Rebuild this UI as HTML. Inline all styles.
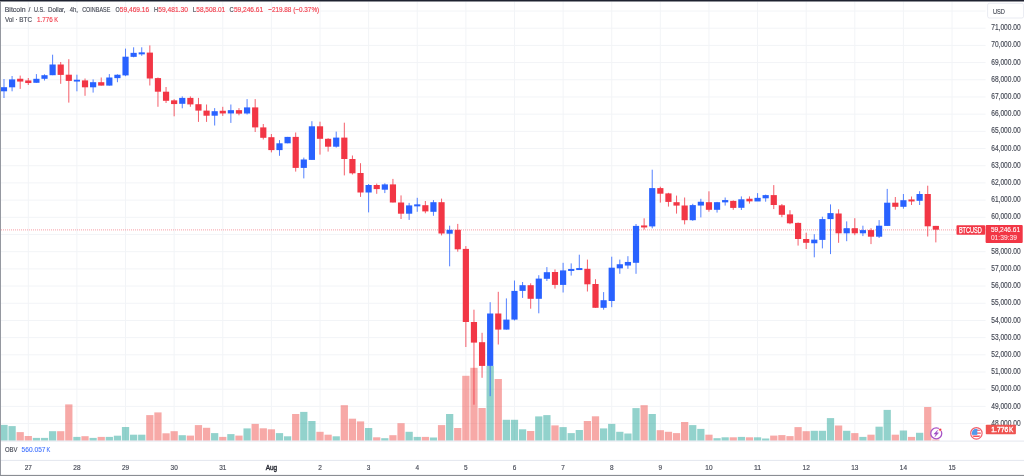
<!DOCTYPE html>
<html><head><meta charset="utf-8"><title>BTCUSD</title>
<style>
html,body{margin:0;padding:0;background:#fff;}
body{width:1024px;height:476px;overflow:hidden;position:relative;font-family:"Liberation Sans",sans-serif;}
svg{position:absolute;left:0;top:0;display:block;filter:blur(0.35px);}
text{font-family:"Liberation Sans",sans-serif;}
</style></head><body>
<svg width="1024" height="476" viewBox="0 0 1024 476">
<rect x="0" y="0" width="1024" height="476" fill="#ffffff"/>

<g stroke="#f2f4f7" stroke-width="1" fill="none">
<line x1="1" y1="11.02" x2="985.6" y2="11.02"/>
<line x1="1" y1="28.21" x2="985.6" y2="28.21"/>
<line x1="1" y1="45.40" x2="985.6" y2="45.40"/>
<line x1="1" y1="62.59" x2="985.6" y2="62.59"/>
<line x1="1" y1="79.78" x2="985.6" y2="79.78"/>
<line x1="1" y1="96.97" x2="985.6" y2="96.97"/>
<line x1="1" y1="114.16" x2="985.6" y2="114.16"/>
<line x1="1" y1="131.35" x2="985.6" y2="131.35"/>
<line x1="1" y1="148.54" x2="985.6" y2="148.54"/>
<line x1="1" y1="165.73" x2="985.6" y2="165.73"/>
<line x1="1" y1="182.92" x2="985.6" y2="182.92"/>
<line x1="1" y1="200.11" x2="985.6" y2="200.11"/>
<line x1="1" y1="217.30" x2="985.6" y2="217.30"/>
<line x1="1" y1="234.49" x2="985.6" y2="234.49"/>
<line x1="1" y1="251.68" x2="985.6" y2="251.68"/>
<line x1="1" y1="268.87" x2="985.6" y2="268.87"/>
<line x1="1" y1="286.06" x2="985.6" y2="286.06"/>
<line x1="1" y1="303.25" x2="985.6" y2="303.25"/>
<line x1="1" y1="320.44" x2="985.6" y2="320.44"/>
<line x1="1" y1="337.63" x2="985.6" y2="337.63"/>
<line x1="1" y1="354.82" x2="985.6" y2="354.82"/>
<line x1="1" y1="372.01" x2="985.6" y2="372.01"/>
<line x1="1" y1="389.20" x2="985.6" y2="389.20"/>
<line x1="1" y1="406.39" x2="985.6" y2="406.39"/>
<line x1="1" y1="423.58" x2="985.6" y2="423.58"/>
<line x1="28.30" y1="1.5" x2="28.30" y2="440.7"/>
<line x1="76.92" y1="1.5" x2="76.92" y2="440.7"/>
<line x1="125.53" y1="1.5" x2="125.53" y2="440.7"/>
<line x1="174.15" y1="1.5" x2="174.15" y2="440.7"/>
<line x1="222.77" y1="1.5" x2="222.77" y2="440.7"/>
<line x1="271.39" y1="1.5" x2="271.39" y2="440.7"/>
<line x1="320.01" y1="1.5" x2="320.01" y2="440.7"/>
<line x1="368.62" y1="1.5" x2="368.62" y2="440.7"/>
<line x1="417.24" y1="1.5" x2="417.24" y2="440.7"/>
<line x1="465.86" y1="1.5" x2="465.86" y2="440.7"/>
<line x1="514.48" y1="1.5" x2="514.48" y2="440.7"/>
<line x1="563.10" y1="1.5" x2="563.10" y2="440.7"/>
<line x1="611.72" y1="1.5" x2="611.72" y2="440.7"/>
<line x1="660.33" y1="1.5" x2="660.33" y2="440.7"/>
<line x1="708.95" y1="1.5" x2="708.95" y2="440.7"/>
<line x1="757.57" y1="1.5" x2="757.57" y2="440.7"/>
<line x1="806.19" y1="1.5" x2="806.19" y2="440.7"/>
<line x1="854.80" y1="1.5" x2="854.80" y2="440.7"/>
<line x1="903.42" y1="1.5" x2="903.42" y2="440.7"/>
<line x1="952.04" y1="1.5" x2="952.04" y2="440.7"/>
</g>
<g>
<rect x="1.00" y="424.90" width="6.62" height="15.80" fill="rgba(38,166,154,0.5)"/>
<rect x="8.47" y="426.10" width="7.25" height="14.60" fill="rgba(38,166,154,0.5)"/>
<rect x="16.57" y="432.10" width="7.25" height="8.60" fill="rgba(239,83,80,0.5)"/>
<rect x="24.67" y="436.00" width="7.25" height="4.70" fill="rgba(239,83,80,0.5)"/>
<rect x="32.78" y="437.90" width="7.25" height="2.80" fill="rgba(38,166,154,0.5)"/>
<rect x="40.88" y="437.90" width="7.25" height="2.80" fill="rgba(38,166,154,0.5)"/>
<rect x="48.98" y="431.20" width="7.25" height="9.50" fill="rgba(38,166,154,0.5)"/>
<rect x="57.09" y="431.20" width="7.25" height="9.50" fill="rgba(239,83,80,0.5)"/>
<rect x="65.19" y="404.40" width="7.25" height="36.30" fill="rgba(239,83,80,0.5)"/>
<rect x="73.29" y="436.90" width="7.25" height="3.80" fill="rgba(38,166,154,0.5)"/>
<rect x="81.39" y="436.20" width="7.25" height="4.50" fill="rgba(239,83,80,0.5)"/>
<rect x="89.50" y="437.90" width="7.25" height="2.80" fill="rgba(38,166,154,0.5)"/>
<rect x="97.60" y="436.90" width="7.25" height="3.80" fill="rgba(239,83,80,0.5)"/>
<rect x="105.70" y="436.90" width="7.25" height="3.80" fill="rgba(38,166,154,0.5)"/>
<rect x="113.81" y="435.70" width="7.25" height="5.00" fill="rgba(38,166,154,0.5)"/>
<rect x="121.91" y="427.00" width="7.25" height="13.70" fill="rgba(38,166,154,0.5)"/>
<rect x="130.01" y="434.70" width="7.25" height="6.00" fill="rgba(38,166,154,0.5)"/>
<rect x="138.12" y="434.70" width="7.25" height="6.00" fill="rgba(38,166,154,0.5)"/>
<rect x="146.22" y="415.10" width="7.25" height="25.60" fill="rgba(239,83,80,0.5)"/>
<rect x="154.32" y="412.40" width="7.25" height="28.30" fill="rgba(239,83,80,0.5)"/>
<rect x="162.43" y="433.30" width="7.25" height="7.40" fill="rgba(239,83,80,0.5)"/>
<rect x="170.53" y="431.20" width="7.25" height="9.50" fill="rgba(239,83,80,0.5)"/>
<rect x="178.63" y="435.20" width="7.25" height="5.50" fill="rgba(38,166,154,0.5)"/>
<rect x="186.73" y="435.60" width="7.25" height="5.10" fill="rgba(239,83,80,0.5)"/>
<rect x="194.84" y="425.10" width="7.25" height="15.60" fill="rgba(239,83,80,0.5)"/>
<rect x="202.94" y="427.80" width="7.25" height="12.90" fill="rgba(239,83,80,0.5)"/>
<rect x="211.04" y="433.10" width="7.25" height="7.60" fill="rgba(38,166,154,0.5)"/>
<rect x="219.15" y="436.90" width="7.25" height="3.80" fill="rgba(239,83,80,0.5)"/>
<rect x="227.25" y="434.10" width="7.25" height="6.60" fill="rgba(38,166,154,0.5)"/>
<rect x="235.35" y="435.60" width="7.25" height="5.10" fill="rgba(239,83,80,0.5)"/>
<rect x="243.46" y="428.40" width="7.25" height="12.30" fill="rgba(38,166,154,0.5)"/>
<rect x="251.56" y="423.90" width="7.25" height="16.80" fill="rgba(239,83,80,0.5)"/>
<rect x="259.66" y="428.30" width="7.25" height="12.40" fill="rgba(239,83,80,0.5)"/>
<rect x="267.76" y="429.30" width="7.25" height="11.40" fill="rgba(239,83,80,0.5)"/>
<rect x="275.87" y="433.10" width="7.25" height="7.60" fill="rgba(38,166,154,0.5)"/>
<rect x="283.97" y="436.30" width="7.25" height="4.40" fill="rgba(38,166,154,0.5)"/>
<rect x="292.07" y="414.00" width="7.25" height="26.70" fill="rgba(239,83,80,0.5)"/>
<rect x="300.18" y="411.90" width="7.25" height="28.80" fill="rgba(38,166,154,0.5)"/>
<rect x="308.28" y="421.00" width="7.25" height="19.70" fill="rgba(38,166,154,0.5)"/>
<rect x="316.38" y="431.80" width="7.25" height="8.90" fill="rgba(239,83,80,0.5)"/>
<rect x="324.49" y="434.70" width="7.25" height="6.00" fill="rgba(239,83,80,0.5)"/>
<rect x="332.59" y="436.30" width="7.25" height="4.40" fill="rgba(38,166,154,0.5)"/>
<rect x="340.69" y="405.20" width="7.25" height="35.50" fill="rgba(239,83,80,0.5)"/>
<rect x="348.79" y="418.70" width="7.25" height="22.00" fill="rgba(239,83,80,0.5)"/>
<rect x="356.90" y="421.40" width="7.25" height="19.30" fill="rgba(239,83,80,0.5)"/>
<rect x="365.00" y="428.00" width="7.25" height="12.70" fill="rgba(38,166,154,0.5)"/>
<rect x="373.10" y="437.30" width="7.25" height="3.40" fill="rgba(239,83,80,0.5)"/>
<rect x="381.21" y="438.20" width="7.25" height="2.50" fill="rgba(38,166,154,0.5)"/>
<rect x="389.31" y="435.20" width="7.25" height="5.50" fill="rgba(239,83,80,0.5)"/>
<rect x="397.41" y="423.20" width="7.25" height="17.50" fill="rgba(239,83,80,0.5)"/>
<rect x="405.51" y="431.80" width="7.25" height="8.90" fill="rgba(38,166,154,0.5)"/>
<rect x="413.62" y="436.90" width="7.25" height="3.80" fill="rgba(38,166,154,0.5)"/>
<rect x="421.72" y="436.90" width="7.25" height="3.80" fill="rgba(239,83,80,0.5)"/>
<rect x="429.82" y="437.50" width="7.25" height="3.20" fill="rgba(38,166,154,0.5)"/>
<rect x="437.93" y="425.10" width="7.25" height="15.60" fill="rgba(239,83,80,0.5)"/>
<rect x="446.03" y="414.00" width="7.25" height="26.70" fill="rgba(38,166,154,0.5)"/>
<rect x="454.13" y="428.00" width="7.25" height="12.70" fill="rgba(239,83,80,0.5)"/>
<rect x="462.24" y="375.80" width="7.25" height="64.90" fill="rgba(239,83,80,0.5)"/>
<rect x="470.34" y="367.80" width="7.25" height="72.90" fill="rgba(239,83,80,0.5)"/>
<rect x="478.44" y="408.00" width="7.25" height="32.70" fill="rgba(239,83,80,0.5)"/>
<rect x="486.55" y="366.00" width="7.25" height="74.70" fill="rgba(38,166,154,0.5)"/>
<rect x="494.65" y="379.00" width="7.25" height="61.70" fill="rgba(239,83,80,0.5)"/>
<rect x="502.75" y="419.80" width="7.25" height="20.90" fill="rgba(38,166,154,0.5)"/>
<rect x="510.85" y="419.80" width="7.25" height="20.90" fill="rgba(38,166,154,0.5)"/>
<rect x="518.96" y="429.30" width="7.25" height="11.40" fill="rgba(38,166,154,0.5)"/>
<rect x="527.06" y="431.00" width="7.25" height="9.70" fill="rgba(239,83,80,0.5)"/>
<rect x="535.16" y="416.40" width="7.25" height="24.30" fill="rgba(38,166,154,0.5)"/>
<rect x="543.27" y="415.10" width="7.25" height="25.60" fill="rgba(38,166,154,0.5)"/>
<rect x="551.37" y="425.40" width="7.25" height="15.30" fill="rgba(239,83,80,0.5)"/>
<rect x="559.47" y="427.10" width="7.25" height="13.60" fill="rgba(38,166,154,0.5)"/>
<rect x="567.58" y="433.10" width="7.25" height="7.60" fill="rgba(38,166,154,0.5)"/>
<rect x="575.68" y="430.00" width="7.25" height="10.70" fill="rgba(38,166,154,0.5)"/>
<rect x="583.78" y="421.00" width="7.25" height="19.70" fill="rgba(239,83,80,0.5)"/>
<rect x="591.88" y="416.30" width="7.25" height="24.40" fill="rgba(239,83,80,0.5)"/>
<rect x="599.99" y="428.40" width="7.25" height="12.30" fill="rgba(38,166,154,0.5)"/>
<rect x="608.09" y="423.90" width="7.25" height="16.80" fill="rgba(38,166,154,0.5)"/>
<rect x="616.19" y="431.80" width="7.25" height="8.90" fill="rgba(38,166,154,0.5)"/>
<rect x="624.30" y="433.50" width="7.25" height="7.20" fill="rgba(38,166,154,0.5)"/>
<rect x="632.40" y="408.10" width="7.25" height="32.60" fill="rgba(38,166,154,0.5)"/>
<rect x="640.50" y="405.20" width="7.25" height="35.50" fill="rgba(239,83,80,0.5)"/>
<rect x="648.61" y="414.00" width="7.25" height="26.70" fill="rgba(38,166,154,0.5)"/>
<rect x="656.71" y="430.20" width="7.25" height="10.50" fill="rgba(239,83,80,0.5)"/>
<rect x="664.81" y="431.80" width="7.25" height="8.90" fill="rgba(239,83,80,0.5)"/>
<rect x="672.91" y="433.10" width="7.25" height="7.60" fill="rgba(239,83,80,0.5)"/>
<rect x="681.02" y="422.00" width="7.25" height="18.70" fill="rgba(239,83,80,0.5)"/>
<rect x="689.12" y="425.10" width="7.25" height="15.60" fill="rgba(38,166,154,0.5)"/>
<rect x="697.22" y="428.90" width="7.25" height="11.80" fill="rgba(38,166,154,0.5)"/>
<rect x="705.33" y="434.70" width="7.25" height="6.00" fill="rgba(239,83,80,0.5)"/>
<rect x="713.43" y="438.20" width="7.25" height="2.50" fill="rgba(38,166,154,0.5)"/>
<rect x="721.53" y="437.30" width="7.25" height="3.40" fill="rgba(38,166,154,0.5)"/>
<rect x="729.63" y="437.30" width="7.25" height="3.40" fill="rgba(239,83,80,0.5)"/>
<rect x="737.74" y="436.90" width="7.25" height="3.80" fill="rgba(38,166,154,0.5)"/>
<rect x="745.84" y="437.30" width="7.25" height="3.40" fill="rgba(239,83,80,0.5)"/>
<rect x="753.94" y="437.30" width="7.25" height="3.40" fill="rgba(38,166,154,0.5)"/>
<rect x="762.05" y="438.50" width="7.25" height="2.20" fill="rgba(38,166,154,0.5)"/>
<rect x="770.15" y="435.60" width="7.25" height="5.10" fill="rgba(239,83,80,0.5)"/>
<rect x="778.25" y="435.10" width="7.25" height="5.60" fill="rgba(239,83,80,0.5)"/>
<rect x="786.36" y="436.10" width="7.25" height="4.60" fill="rgba(239,83,80,0.5)"/>
<rect x="794.46" y="427.10" width="7.25" height="13.60" fill="rgba(239,83,80,0.5)"/>
<rect x="802.56" y="431.20" width="7.25" height="9.50" fill="rgba(239,83,80,0.5)"/>
<rect x="810.66" y="430.80" width="7.25" height="9.90" fill="rgba(38,166,154,0.5)"/>
<rect x="818.77" y="430.80" width="7.25" height="9.90" fill="rgba(38,166,154,0.5)"/>
<rect x="826.87" y="418.10" width="7.25" height="22.60" fill="rgba(38,166,154,0.5)"/>
<rect x="834.97" y="425.50" width="7.25" height="15.20" fill="rgba(239,83,80,0.5)"/>
<rect x="843.08" y="430.80" width="7.25" height="9.90" fill="rgba(38,166,154,0.5)"/>
<rect x="851.18" y="433.10" width="7.25" height="7.60" fill="rgba(239,83,80,0.5)"/>
<rect x="859.28" y="436.90" width="7.25" height="3.80" fill="rgba(38,166,154,0.5)"/>
<rect x="867.39" y="434.70" width="7.25" height="6.00" fill="rgba(239,83,80,0.5)"/>
<rect x="875.49" y="426.70" width="7.25" height="14.00" fill="rgba(38,166,154,0.5)"/>
<rect x="883.59" y="409.90" width="7.25" height="30.80" fill="rgba(38,166,154,0.5)"/>
<rect x="891.69" y="434.70" width="7.25" height="6.00" fill="rgba(239,83,80,0.5)"/>
<rect x="899.80" y="430.50" width="7.25" height="10.20" fill="rgba(38,166,154,0.5)"/>
<rect x="907.90" y="436.90" width="7.25" height="3.80" fill="rgba(239,83,80,0.5)"/>
<rect x="916.00" y="432.80" width="7.25" height="7.90" fill="rgba(38,166,154,0.5)"/>
<rect x="924.11" y="407.00" width="7.25" height="33.70" fill="rgba(239,83,80,0.5)"/>
<rect x="932.21" y="439.50" width="7.25" height="1.20" fill="rgba(239,83,80,0.5)"/>
</g>
<line x1="1" y1="229.9" x2="985.6" y2="229.9" stroke="#f23645" stroke-width="0.8" stroke-dasharray="1 1" opacity="0.6"/>
<g>
<line x1="3.99" y1="79.00" x2="3.99" y2="98.00" stroke="#2962ff" stroke-width="1" opacity="0.8"/>
<rect x="1.00" y="87.20" width="6.09" height="4.10" fill="#2962ff"/>
<line x1="12.09" y1="76.00" x2="12.09" y2="91.30" stroke="#2962ff" stroke-width="1" opacity="0.8"/>
<rect x="8.99" y="79.40" width="6.20" height="7.90" fill="#2962ff"/>
<line x1="20.20" y1="75.60" x2="20.20" y2="88.90" stroke="#f23645" stroke-width="1" opacity="0.8"/>
<rect x="17.10" y="78.75" width="6.20" height="2.80" fill="#f23645"/>
<line x1="28.30" y1="78.00" x2="28.30" y2="85.00" stroke="#f23645" stroke-width="1" opacity="0.8"/>
<rect x="25.20" y="80.45" width="6.20" height="2.60" fill="#f23645"/>
<line x1="36.40" y1="74.10" x2="36.40" y2="82.80" stroke="#2962ff" stroke-width="1" opacity="0.8"/>
<rect x="33.30" y="78.80" width="6.20" height="4.00" fill="#2962ff"/>
<line x1="44.51" y1="74.30" x2="44.51" y2="80.50" stroke="#2962ff" stroke-width="1" opacity="0.8"/>
<rect x="41.41" y="75.20" width="6.20" height="3.60" fill="#2962ff"/>
<line x1="52.61" y1="54.70" x2="52.61" y2="75.20" stroke="#2962ff" stroke-width="1" opacity="0.8"/>
<rect x="49.51" y="64.50" width="6.20" height="10.70" fill="#2962ff"/>
<line x1="60.71" y1="62.00" x2="60.71" y2="83.80" stroke="#f23645" stroke-width="1" opacity="0.8"/>
<rect x="57.61" y="64.50" width="6.20" height="10.40" fill="#f23645"/>
<line x1="68.81" y1="59.20" x2="68.81" y2="102.60" stroke="#f23645" stroke-width="1" opacity="0.8"/>
<rect x="65.71" y="74.70" width="6.20" height="6.20" fill="#f23645"/>
<line x1="76.92" y1="74.70" x2="76.92" y2="91.30" stroke="#2962ff" stroke-width="1" opacity="0.8"/>
<rect x="73.82" y="79.75" width="6.20" height="1.80" fill="#2962ff"/>
<line x1="85.02" y1="78.50" x2="85.02" y2="95.80" stroke="#f23645" stroke-width="1" opacity="0.8"/>
<rect x="81.92" y="80.40" width="6.20" height="6.90" fill="#f23645"/>
<line x1="93.12" y1="79.40" x2="93.12" y2="92.60" stroke="#2962ff" stroke-width="1" opacity="0.8"/>
<rect x="90.02" y="82.20" width="6.20" height="5.10" fill="#2962ff"/>
<line x1="101.23" y1="77.50" x2="101.23" y2="85.60" stroke="#f23645" stroke-width="1" opacity="0.8"/>
<rect x="98.13" y="82.20" width="6.20" height="3.40" fill="#f23645"/>
<line x1="109.33" y1="74.10" x2="109.33" y2="85.60" stroke="#2962ff" stroke-width="1" opacity="0.8"/>
<rect x="106.23" y="77.50" width="6.20" height="8.10" fill="#2962ff"/>
<line x1="117.43" y1="74.30" x2="117.43" y2="82.20" stroke="#2962ff" stroke-width="1" opacity="0.8"/>
<rect x="114.33" y="74.75" width="6.20" height="3.40" fill="#2962ff"/>
<line x1="125.53" y1="48.60" x2="125.53" y2="76.20" stroke="#2962ff" stroke-width="1" opacity="0.8"/>
<rect x="122.44" y="56.70" width="6.20" height="18.70" fill="#2962ff"/>
<line x1="133.64" y1="47.30" x2="133.64" y2="57.30" stroke="#2962ff" stroke-width="1" opacity="0.8"/>
<rect x="130.54" y="52.85" width="6.20" height="4.00" fill="#2962ff"/>
<line x1="141.74" y1="47.30" x2="141.74" y2="55.80" stroke="#2962ff" stroke-width="1" opacity="0.8"/>
<rect x="138.64" y="52.35" width="6.20" height="2.00" fill="#2962ff"/>
<line x1="149.84" y1="45.40" x2="149.84" y2="85.50" stroke="#f23645" stroke-width="1" opacity="0.8"/>
<rect x="146.74" y="52.60" width="6.20" height="25.90" fill="#f23645"/>
<line x1="157.95" y1="77.50" x2="157.95" y2="106.80" stroke="#f23645" stroke-width="1" opacity="0.8"/>
<rect x="154.85" y="78.10" width="6.20" height="13.60" fill="#f23645"/>
<line x1="166.05" y1="87.00" x2="166.05" y2="103.00" stroke="#f23645" stroke-width="1" opacity="0.8"/>
<rect x="162.95" y="91.70" width="6.20" height="9.10" fill="#f23645"/>
<line x1="174.15" y1="99.20" x2="174.15" y2="116.30" stroke="#f23645" stroke-width="1" opacity="0.8"/>
<rect x="171.05" y="100.35" width="6.20" height="3.70" fill="#f23645"/>
<line x1="182.26" y1="96.40" x2="182.26" y2="108.30" stroke="#2962ff" stroke-width="1" opacity="0.8"/>
<rect x="179.16" y="97.90" width="6.20" height="5.90" fill="#2962ff"/>
<line x1="190.36" y1="96.40" x2="190.36" y2="106.80" stroke="#f23645" stroke-width="1" opacity="0.8"/>
<rect x="187.26" y="97.90" width="6.20" height="6.50" fill="#f23645"/>
<line x1="198.46" y1="97.90" x2="198.46" y2="121.90" stroke="#f23645" stroke-width="1" opacity="0.8"/>
<rect x="195.36" y="104.20" width="6.20" height="6.40" fill="#f23645"/>
<line x1="206.56" y1="104.50" x2="206.56" y2="121.90" stroke="#f23645" stroke-width="1" opacity="0.8"/>
<rect x="203.47" y="110.60" width="6.20" height="5.10" fill="#f23645"/>
<line x1="214.67" y1="108.10" x2="214.67" y2="125.50" stroke="#2962ff" stroke-width="1" opacity="0.8"/>
<rect x="211.57" y="111.20" width="6.20" height="4.50" fill="#2962ff"/>
<line x1="222.77" y1="106.80" x2="222.77" y2="115.90" stroke="#f23645" stroke-width="1" opacity="0.8"/>
<rect x="219.67" y="110.75" width="6.20" height="2.70" fill="#f23645"/>
<line x1="230.87" y1="104.50" x2="230.87" y2="122.90" stroke="#2962ff" stroke-width="1" opacity="0.8"/>
<rect x="227.77" y="110.15" width="6.20" height="3.30" fill="#2962ff"/>
<line x1="238.98" y1="108.10" x2="238.98" y2="115.30" stroke="#f23645" stroke-width="1" opacity="0.8"/>
<rect x="235.88" y="110.15" width="6.20" height="3.50" fill="#f23645"/>
<line x1="247.08" y1="99.10" x2="247.08" y2="114.50" stroke="#2962ff" stroke-width="1" opacity="0.8"/>
<rect x="243.98" y="107.40" width="6.20" height="6.10" fill="#2962ff"/>
<line x1="255.18" y1="99.10" x2="255.18" y2="132.00" stroke="#f23645" stroke-width="1" opacity="0.8"/>
<rect x="252.08" y="107.40" width="6.20" height="20.00" fill="#f23645"/>
<line x1="263.29" y1="124.00" x2="263.29" y2="139.50" stroke="#f23645" stroke-width="1" opacity="0.8"/>
<rect x="260.19" y="127.40" width="6.20" height="10.40" fill="#f23645"/>
<line x1="271.39" y1="134.00" x2="271.39" y2="152.40" stroke="#f23645" stroke-width="1" opacity="0.8"/>
<rect x="268.29" y="137.20" width="6.20" height="12.90" fill="#f23645"/>
<line x1="279.49" y1="140.10" x2="279.49" y2="155.80" stroke="#2962ff" stroke-width="1" opacity="0.8"/>
<rect x="276.39" y="143.30" width="6.20" height="6.80" fill="#2962ff"/>
<line x1="287.60" y1="136.90" x2="287.60" y2="143.30" stroke="#2962ff" stroke-width="1" opacity="0.8"/>
<rect x="284.50" y="136.90" width="6.20" height="6.40" fill="#2962ff"/>
<line x1="295.70" y1="132.50" x2="295.70" y2="171.60" stroke="#f23645" stroke-width="1" opacity="0.8"/>
<rect x="292.60" y="136.90" width="6.20" height="31.00" fill="#f23645"/>
<line x1="303.80" y1="157.60" x2="303.80" y2="178.40" stroke="#2962ff" stroke-width="1" opacity="0.8"/>
<rect x="300.70" y="159.50" width="6.20" height="8.40" fill="#2962ff"/>
<line x1="311.90" y1="121.20" x2="311.90" y2="159.90" stroke="#2962ff" stroke-width="1" opacity="0.8"/>
<rect x="308.80" y="126.30" width="6.20" height="33.60" fill="#2962ff"/>
<line x1="320.01" y1="121.70" x2="320.01" y2="154.60" stroke="#f23645" stroke-width="1" opacity="0.8"/>
<rect x="316.91" y="126.30" width="6.20" height="12.50" fill="#f23645"/>
<line x1="328.11" y1="138.20" x2="328.11" y2="151.60" stroke="#f23645" stroke-width="1" opacity="0.8"/>
<rect x="325.01" y="138.80" width="6.20" height="7.90" fill="#f23645"/>
<line x1="336.21" y1="131.60" x2="336.21" y2="147.60" stroke="#2962ff" stroke-width="1" opacity="0.8"/>
<rect x="333.11" y="137.60" width="6.20" height="9.10" fill="#2962ff"/>
<line x1="344.32" y1="122.70" x2="344.32" y2="175.40" stroke="#f23645" stroke-width="1" opacity="0.8"/>
<rect x="341.22" y="137.60" width="6.20" height="21.40" fill="#f23645"/>
<line x1="352.42" y1="155.50" x2="352.42" y2="174.50" stroke="#f23645" stroke-width="1" opacity="0.8"/>
<rect x="349.32" y="159.00" width="6.20" height="14.30" fill="#f23645"/>
<line x1="360.52" y1="163.20" x2="360.52" y2="196.90" stroke="#f23645" stroke-width="1" opacity="0.8"/>
<rect x="357.42" y="173.00" width="6.20" height="19.50" fill="#f23645"/>
<line x1="368.62" y1="184.00" x2="368.62" y2="212.40" stroke="#2962ff" stroke-width="1" opacity="0.8"/>
<rect x="365.52" y="185.00" width="6.20" height="7.50" fill="#2962ff"/>
<line x1="376.73" y1="183.60" x2="376.73" y2="193.80" stroke="#f23645" stroke-width="1" opacity="0.8"/>
<rect x="373.63" y="185.00" width="6.20" height="4.10" fill="#f23645"/>
<line x1="384.83" y1="183.30" x2="384.83" y2="193.10" stroke="#2962ff" stroke-width="1" opacity="0.8"/>
<rect x="381.73" y="184.40" width="6.20" height="5.30" fill="#2962ff"/>
<line x1="392.93" y1="178.90" x2="392.93" y2="202.50" stroke="#f23645" stroke-width="1" opacity="0.8"/>
<rect x="389.83" y="184.40" width="6.20" height="18.10" fill="#f23645"/>
<line x1="401.04" y1="195.40" x2="401.04" y2="219.00" stroke="#f23645" stroke-width="1" opacity="0.8"/>
<rect x="397.94" y="202.50" width="6.20" height="11.20" fill="#f23645"/>
<line x1="409.14" y1="202.90" x2="409.14" y2="219.90" stroke="#2962ff" stroke-width="1" opacity="0.8"/>
<rect x="406.04" y="205.40" width="6.20" height="8.30" fill="#2962ff"/>
<line x1="417.24" y1="197.80" x2="417.24" y2="211.80" stroke="#2962ff" stroke-width="1" opacity="0.8"/>
<rect x="414.14" y="204.35" width="6.20" height="2.00" fill="#2962ff"/>
<line x1="425.35" y1="201.00" x2="425.35" y2="213.30" stroke="#f23645" stroke-width="1" opacity="0.8"/>
<rect x="422.25" y="205.20" width="6.20" height="6.20" fill="#f23645"/>
<line x1="433.45" y1="200.10" x2="433.45" y2="215.80" stroke="#2962ff" stroke-width="1" opacity="0.8"/>
<rect x="430.35" y="202.20" width="6.20" height="9.60" fill="#2962ff"/>
<line x1="441.55" y1="198.60" x2="441.55" y2="235.40" stroke="#f23645" stroke-width="1" opacity="0.8"/>
<rect x="438.45" y="202.20" width="6.20" height="31.30" fill="#f23645"/>
<line x1="449.65" y1="225.70" x2="449.65" y2="266.30" stroke="#2962ff" stroke-width="1" opacity="0.8"/>
<rect x="446.55" y="229.80" width="6.20" height="3.90" fill="#2962ff"/>
<line x1="457.76" y1="223.90" x2="457.76" y2="251.70" stroke="#f23645" stroke-width="1" opacity="0.8"/>
<rect x="454.66" y="229.80" width="6.20" height="19.50" fill="#f23645"/>
<line x1="465.86" y1="246.10" x2="465.86" y2="347.00" stroke="#f23645" stroke-width="1" opacity="0.8"/>
<rect x="462.76" y="248.90" width="6.20" height="73.10" fill="#f23645"/>
<line x1="473.96" y1="309.70" x2="473.96" y2="404.70" stroke="#f23645" stroke-width="1" opacity="0.8"/>
<rect x="470.86" y="322.00" width="6.20" height="20.60" fill="#f23645"/>
<line x1="482.07" y1="332.80" x2="482.07" y2="377.80" stroke="#f23645" stroke-width="1" opacity="0.8"/>
<rect x="478.97" y="342.20" width="6.20" height="23.70" fill="#f23645"/>
<line x1="490.17" y1="302.20" x2="490.17" y2="396.20" stroke="#2962ff" stroke-width="1" opacity="0.8"/>
<rect x="487.07" y="313.50" width="6.20" height="52.40" fill="#2962ff"/>
<line x1="498.27" y1="291.80" x2="498.27" y2="344.50" stroke="#f23645" stroke-width="1" opacity="0.8"/>
<rect x="495.17" y="313.50" width="6.20" height="16.10" fill="#f23645"/>
<line x1="506.38" y1="298.40" x2="506.38" y2="329.60" stroke="#2962ff" stroke-width="1" opacity="0.8"/>
<rect x="503.28" y="319.60" width="6.20" height="10.00" fill="#2962ff"/>
<line x1="514.48" y1="280.50" x2="514.48" y2="320.50" stroke="#2962ff" stroke-width="1" opacity="0.8"/>
<rect x="511.38" y="290.90" width="6.20" height="28.70" fill="#2962ff"/>
<line x1="522.58" y1="282.00" x2="522.58" y2="297.90" stroke="#2962ff" stroke-width="1" opacity="0.8"/>
<rect x="519.48" y="285.20" width="6.20" height="5.70" fill="#2962ff"/>
<line x1="530.68" y1="283.30" x2="530.68" y2="308.70" stroke="#f23645" stroke-width="1" opacity="0.8"/>
<rect x="527.58" y="285.20" width="6.20" height="13.60" fill="#f23645"/>
<line x1="538.79" y1="275.20" x2="538.79" y2="313.30" stroke="#2962ff" stroke-width="1" opacity="0.8"/>
<rect x="535.69" y="278.60" width="6.20" height="20.20" fill="#2962ff"/>
<line x1="546.89" y1="267.10" x2="546.89" y2="281.00" stroke="#2962ff" stroke-width="1" opacity="0.8"/>
<rect x="543.79" y="272.20" width="6.20" height="6.60" fill="#2962ff"/>
<line x1="554.99" y1="269.40" x2="554.99" y2="288.60" stroke="#f23645" stroke-width="1" opacity="0.8"/>
<rect x="551.89" y="272.00" width="6.20" height="12.90" fill="#f23645"/>
<line x1="563.10" y1="262.80" x2="563.10" y2="292.50" stroke="#2962ff" stroke-width="1" opacity="0.8"/>
<rect x="560.00" y="270.40" width="6.20" height="14.50" fill="#2962ff"/>
<line x1="571.20" y1="263.40" x2="571.20" y2="275.60" stroke="#2962ff" stroke-width="1" opacity="0.8"/>
<rect x="568.10" y="268.95" width="6.20" height="2.00" fill="#2962ff"/>
<line x1="579.30" y1="254.70" x2="579.30" y2="269.60" stroke="#2962ff" stroke-width="1" opacity="0.8"/>
<rect x="576.20" y="268.05" width="6.20" height="2.00" fill="#2962ff"/>
<line x1="587.41" y1="259.60" x2="587.41" y2="291.50" stroke="#f23645" stroke-width="1" opacity="0.8"/>
<rect x="584.31" y="268.80" width="6.20" height="15.50" fill="#f23645"/>
<line x1="595.51" y1="279.20" x2="595.51" y2="307.80" stroke="#f23645" stroke-width="1" opacity="0.8"/>
<rect x="592.41" y="284.00" width="6.20" height="23.80" fill="#f23645"/>
<line x1="603.61" y1="292.10" x2="603.61" y2="309.70" stroke="#2962ff" stroke-width="1" opacity="0.8"/>
<rect x="600.51" y="300.20" width="6.20" height="7.60" fill="#2962ff"/>
<line x1="611.72" y1="256.70" x2="611.72" y2="307.20" stroke="#2962ff" stroke-width="1" opacity="0.8"/>
<rect x="608.62" y="267.70" width="6.20" height="33.30" fill="#2962ff"/>
<line x1="619.82" y1="259.60" x2="619.82" y2="273.80" stroke="#2962ff" stroke-width="1" opacity="0.8"/>
<rect x="616.72" y="264.25" width="6.20" height="4.10" fill="#2962ff"/>
<line x1="627.92" y1="256.20" x2="627.92" y2="268.80" stroke="#2962ff" stroke-width="1" opacity="0.8"/>
<rect x="624.82" y="261.95" width="6.20" height="3.60" fill="#2962ff"/>
<line x1="636.02" y1="224.00" x2="636.02" y2="273.80" stroke="#2962ff" stroke-width="1" opacity="0.8"/>
<rect x="632.92" y="225.90" width="6.20" height="36.90" fill="#2962ff"/>
<line x1="644.13" y1="218.30" x2="644.13" y2="229.60" stroke="#f23645" stroke-width="1" opacity="0.8"/>
<rect x="641.03" y="225.45" width="6.20" height="2.00" fill="#f23645"/>
<line x1="652.23" y1="169.70" x2="652.23" y2="228.30" stroke="#2962ff" stroke-width="1" opacity="0.8"/>
<rect x="649.13" y="188.10" width="6.20" height="38.30" fill="#2962ff"/>
<line x1="660.33" y1="186.70" x2="660.33" y2="202.60" stroke="#f23645" stroke-width="1" opacity="0.8"/>
<rect x="657.23" y="188.10" width="6.20" height="5.60" fill="#f23645"/>
<line x1="668.44" y1="192.80" x2="668.44" y2="206.60" stroke="#f23645" stroke-width="1" opacity="0.8"/>
<rect x="665.34" y="193.40" width="6.20" height="8.50" fill="#f23645"/>
<line x1="676.54" y1="195.60" x2="676.54" y2="213.60" stroke="#f23645" stroke-width="1" opacity="0.8"/>
<rect x="673.44" y="202.20" width="6.20" height="3.40" fill="#f23645"/>
<line x1="684.64" y1="197.50" x2="684.64" y2="224.40" stroke="#f23645" stroke-width="1" opacity="0.8"/>
<rect x="681.54" y="205.50" width="6.20" height="14.70" fill="#f23645"/>
<line x1="692.75" y1="203.80" x2="692.75" y2="220.80" stroke="#2962ff" stroke-width="1" opacity="0.8"/>
<rect x="689.64" y="205.10" width="6.20" height="15.10" fill="#2962ff"/>
<line x1="700.85" y1="198.80" x2="700.85" y2="217.40" stroke="#2962ff" stroke-width="1" opacity="0.8"/>
<rect x="697.75" y="201.75" width="6.20" height="3.80" fill="#2962ff"/>
<line x1="708.95" y1="191.30" x2="708.95" y2="211.70" stroke="#f23645" stroke-width="1" opacity="0.8"/>
<rect x="705.85" y="202.20" width="6.20" height="7.60" fill="#f23645"/>
<line x1="717.05" y1="201.90" x2="717.05" y2="212.60" stroke="#2962ff" stroke-width="1" opacity="0.8"/>
<rect x="713.95" y="202.20" width="6.20" height="7.60" fill="#2962ff"/>
<line x1="725.16" y1="197.50" x2="725.16" y2="205.60" stroke="#2962ff" stroke-width="1" opacity="0.8"/>
<rect x="722.06" y="200.05" width="6.20" height="2.30" fill="#2962ff"/>
<line x1="733.26" y1="200.40" x2="733.26" y2="209.80" stroke="#f23645" stroke-width="1" opacity="0.8"/>
<rect x="730.16" y="200.90" width="6.20" height="7.00" fill="#f23645"/>
<line x1="741.36" y1="196.40" x2="741.36" y2="210.00" stroke="#2962ff" stroke-width="1" opacity="0.8"/>
<rect x="738.26" y="199.30" width="6.20" height="8.50" fill="#2962ff"/>
<line x1="749.47" y1="196.40" x2="749.47" y2="203.60" stroke="#f23645" stroke-width="1" opacity="0.8"/>
<rect x="746.37" y="198.75" width="6.20" height="2.60" fill="#f23645"/>
<line x1="757.57" y1="193.10" x2="757.57" y2="201.00" stroke="#2962ff" stroke-width="1" opacity="0.8"/>
<rect x="754.47" y="197.85" width="6.20" height="3.60" fill="#2962ff"/>
<line x1="765.67" y1="194.60" x2="765.67" y2="201.70" stroke="#2962ff" stroke-width="1" opacity="0.8"/>
<rect x="762.57" y="195.10" width="6.20" height="3.20" fill="#2962ff"/>
<line x1="773.77" y1="185.10" x2="773.77" y2="209.10" stroke="#f23645" stroke-width="1" opacity="0.8"/>
<rect x="770.67" y="195.10" width="6.20" height="9.90" fill="#f23645"/>
<line x1="781.88" y1="204.00" x2="781.88" y2="217.20" stroke="#f23645" stroke-width="1" opacity="0.8"/>
<rect x="778.78" y="205.30" width="6.20" height="9.50" fill="#f23645"/>
<line x1="789.98" y1="210.20" x2="789.98" y2="224.20" stroke="#f23645" stroke-width="1" opacity="0.8"/>
<rect x="786.88" y="214.40" width="6.20" height="8.90" fill="#f23645"/>
<line x1="798.08" y1="222.50" x2="798.08" y2="245.60" stroke="#f23645" stroke-width="1" opacity="0.8"/>
<rect x="794.98" y="222.90" width="6.20" height="16.10" fill="#f23645"/>
<line x1="806.19" y1="232.70" x2="806.19" y2="249.00" stroke="#f23645" stroke-width="1" opacity="0.8"/>
<rect x="803.09" y="239.00" width="6.20" height="3.80" fill="#f23645"/>
<line x1="814.29" y1="234.20" x2="814.29" y2="257.30" stroke="#2962ff" stroke-width="1" opacity="0.8"/>
<rect x="811.19" y="239.65" width="6.20" height="3.60" fill="#2962ff"/>
<line x1="822.39" y1="216.70" x2="822.39" y2="248.40" stroke="#2962ff" stroke-width="1" opacity="0.8"/>
<rect x="819.29" y="219.10" width="6.20" height="20.80" fill="#2962ff"/>
<line x1="830.50" y1="204.40" x2="830.50" y2="254.10" stroke="#2962ff" stroke-width="1" opacity="0.8"/>
<rect x="827.40" y="213.10" width="6.20" height="6.00" fill="#2962ff"/>
<line x1="838.60" y1="209.30" x2="838.60" y2="242.80" stroke="#f23645" stroke-width="1" opacity="0.8"/>
<rect x="835.50" y="213.50" width="6.20" height="19.80" fill="#f23645"/>
<line x1="846.70" y1="221.40" x2="846.70" y2="241.20" stroke="#2962ff" stroke-width="1" opacity="0.8"/>
<rect x="843.60" y="228.20" width="6.20" height="5.10" fill="#2962ff"/>
<line x1="854.80" y1="218.20" x2="854.80" y2="235.20" stroke="#f23645" stroke-width="1" opacity="0.8"/>
<rect x="851.70" y="228.20" width="6.20" height="5.10" fill="#f23645"/>
<line x1="862.91" y1="225.70" x2="862.91" y2="236.10" stroke="#2962ff" stroke-width="1" opacity="0.8"/>
<rect x="859.81" y="230.10" width="6.20" height="3.20" fill="#2962ff"/>
<line x1="871.01" y1="228.20" x2="871.01" y2="244.10" stroke="#f23645" stroke-width="1" opacity="0.8"/>
<rect x="867.91" y="230.10" width="6.20" height="6.60" fill="#f23645"/>
<line x1="879.11" y1="220.10" x2="879.11" y2="238.00" stroke="#2962ff" stroke-width="1" opacity="0.8"/>
<rect x="876.01" y="225.70" width="6.20" height="11.00" fill="#2962ff"/>
<line x1="887.22" y1="188.90" x2="887.22" y2="225.90" stroke="#2962ff" stroke-width="1" opacity="0.8"/>
<rect x="884.12" y="202.70" width="6.20" height="23.20" fill="#2962ff"/>
<line x1="895.32" y1="197.00" x2="895.32" y2="209.70" stroke="#f23645" stroke-width="1" opacity="0.8"/>
<rect x="892.22" y="202.70" width="6.20" height="4.10" fill="#f23645"/>
<line x1="903.42" y1="194.00" x2="903.42" y2="208.70" stroke="#2962ff" stroke-width="1" opacity="0.8"/>
<rect x="900.32" y="200.20" width="6.20" height="6.60" fill="#2962ff"/>
<line x1="911.53" y1="196.50" x2="911.53" y2="205.00" stroke="#f23645" stroke-width="1" opacity="0.8"/>
<rect x="908.43" y="199.45" width="6.20" height="2.00" fill="#f23645"/>
<line x1="919.63" y1="191.20" x2="919.63" y2="205.00" stroke="#2962ff" stroke-width="1" opacity="0.8"/>
<rect x="916.53" y="194.00" width="6.20" height="6.80" fill="#2962ff"/>
<line x1="927.73" y1="185.70" x2="927.73" y2="236.50" stroke="#f23645" stroke-width="1" opacity="0.8"/>
<rect x="924.63" y="194.00" width="6.20" height="32.30" fill="#f23645"/>
<line x1="935.84" y1="225.90" x2="935.84" y2="242.40" stroke="#f23645" stroke-width="1" opacity="0.8"/>
<rect x="932.74" y="225.90" width="6.20" height="3.80" fill="#f23645"/>
</g>
<line x1="1" y1="441.1" x2="1024" y2="441.1" stroke="#e4e7ef" stroke-width="1"/>
<line x1="1" y1="460.4" x2="1024" y2="460.4" stroke="#e4e7ef" stroke-width="1"/>
<text x="991.20" y="30.10" font-size="8.20" fill="#474b57" text-anchor="start" font-weight="normal" stroke="#474b57" stroke-width="0.16" textLength="29.50" lengthAdjust="spacingAndGlyphs">71,000.00</text>
<text x="991.20" y="47.30" font-size="8.20" fill="#474b57" text-anchor="start" font-weight="normal" stroke="#474b57" stroke-width="0.16" textLength="29.50" lengthAdjust="spacingAndGlyphs">70,000.00</text>
<text x="991.20" y="64.50" font-size="8.20" fill="#474b57" text-anchor="start" font-weight="normal" stroke="#474b57" stroke-width="0.16" textLength="29.50" lengthAdjust="spacingAndGlyphs">69,000.00</text>
<text x="991.20" y="81.70" font-size="8.20" fill="#474b57" text-anchor="start" font-weight="normal" stroke="#474b57" stroke-width="0.16" textLength="29.50" lengthAdjust="spacingAndGlyphs">68,000.00</text>
<text x="991.20" y="98.90" font-size="8.20" fill="#474b57" text-anchor="start" font-weight="normal" stroke="#474b57" stroke-width="0.16" textLength="29.50" lengthAdjust="spacingAndGlyphs">67,000.00</text>
<text x="991.20" y="116.10" font-size="8.20" fill="#474b57" text-anchor="start" font-weight="normal" stroke="#474b57" stroke-width="0.16" textLength="29.50" lengthAdjust="spacingAndGlyphs">66,000.00</text>
<text x="991.20" y="133.30" font-size="8.20" fill="#474b57" text-anchor="start" font-weight="normal" stroke="#474b57" stroke-width="0.16" textLength="29.50" lengthAdjust="spacingAndGlyphs">65,000.00</text>
<text x="991.20" y="150.50" font-size="8.20" fill="#474b57" text-anchor="start" font-weight="normal" stroke="#474b57" stroke-width="0.16" textLength="29.50" lengthAdjust="spacingAndGlyphs">64,000.00</text>
<text x="991.20" y="167.70" font-size="8.20" fill="#474b57" text-anchor="start" font-weight="normal" stroke="#474b57" stroke-width="0.16" textLength="29.50" lengthAdjust="spacingAndGlyphs">63,000.00</text>
<text x="991.20" y="184.90" font-size="8.20" fill="#474b57" text-anchor="start" font-weight="normal" stroke="#474b57" stroke-width="0.16" textLength="29.50" lengthAdjust="spacingAndGlyphs">62,000.00</text>
<text x="991.20" y="202.10" font-size="8.20" fill="#474b57" text-anchor="start" font-weight="normal" stroke="#474b57" stroke-width="0.16" textLength="29.50" lengthAdjust="spacingAndGlyphs">61,000.00</text>
<text x="991.20" y="219.30" font-size="8.20" fill="#474b57" text-anchor="start" font-weight="normal" stroke="#474b57" stroke-width="0.16" textLength="29.50" lengthAdjust="spacingAndGlyphs">60,000.00</text>
<text x="991.20" y="236.50" font-size="8.20" fill="#474b57" text-anchor="start" font-weight="normal" stroke="#474b57" stroke-width="0.16" textLength="29.50" lengthAdjust="spacingAndGlyphs">59,000.00</text>
<text x="991.20" y="253.70" font-size="8.20" fill="#474b57" text-anchor="start" font-weight="normal" stroke="#474b57" stroke-width="0.16" textLength="29.50" lengthAdjust="spacingAndGlyphs">58,000.00</text>
<text x="991.20" y="270.90" font-size="8.20" fill="#474b57" text-anchor="start" font-weight="normal" stroke="#474b57" stroke-width="0.16" textLength="29.50" lengthAdjust="spacingAndGlyphs">57,000.00</text>
<text x="991.20" y="288.10" font-size="8.20" fill="#474b57" text-anchor="start" font-weight="normal" stroke="#474b57" stroke-width="0.16" textLength="29.50" lengthAdjust="spacingAndGlyphs">56,000.00</text>
<text x="991.20" y="305.30" font-size="8.20" fill="#474b57" text-anchor="start" font-weight="normal" stroke="#474b57" stroke-width="0.16" textLength="29.50" lengthAdjust="spacingAndGlyphs">55,000.00</text>
<text x="991.20" y="322.50" font-size="8.20" fill="#474b57" text-anchor="start" font-weight="normal" stroke="#474b57" stroke-width="0.16" textLength="29.50" lengthAdjust="spacingAndGlyphs">54,000.00</text>
<text x="991.20" y="339.70" font-size="8.20" fill="#474b57" text-anchor="start" font-weight="normal" stroke="#474b57" stroke-width="0.16" textLength="29.50" lengthAdjust="spacingAndGlyphs">53,000.00</text>
<text x="991.20" y="356.90" font-size="8.20" fill="#474b57" text-anchor="start" font-weight="normal" stroke="#474b57" stroke-width="0.16" textLength="29.50" lengthAdjust="spacingAndGlyphs">52,000.00</text>
<text x="991.20" y="374.10" font-size="8.20" fill="#474b57" text-anchor="start" font-weight="normal" stroke="#474b57" stroke-width="0.16" textLength="29.50" lengthAdjust="spacingAndGlyphs">51,000.00</text>
<text x="991.20" y="391.30" font-size="8.20" fill="#474b57" text-anchor="start" font-weight="normal" stroke="#474b57" stroke-width="0.16" textLength="29.50" lengthAdjust="spacingAndGlyphs">50,000.00</text>
<text x="991.20" y="408.50" font-size="8.20" fill="#474b57" text-anchor="start" font-weight="normal" stroke="#474b57" stroke-width="0.16" textLength="29.50" lengthAdjust="spacingAndGlyphs">49,000.00</text>
<text x="991.20" y="425.70" font-size="8.20" fill="#474b57" text-anchor="start" font-weight="normal" stroke="#474b57" stroke-width="0.16" textLength="29.50" lengthAdjust="spacingAndGlyphs">48,000.00</text>
<rect x="987.6" y="3.3" width="36" height="14.7" rx="1.8" fill="#fff" stroke="#e6e9f1" stroke-width="0.9"/>
<text x="992.90" y="13.70" font-size="8.00" fill="#474b57" text-anchor="start" font-weight="normal" stroke="#474b57" stroke-width="0.16" textLength="12.00" lengthAdjust="spacingAndGlyphs">USD</text>
<rect x="956.5" y="225.2" width="28.6" height="9.5" rx="0.8" fill="#f23645"/>
<text x="958.90" y="232.80" font-size="8.40" fill="#fff" text-anchor="start" font-weight="normal" stroke="#fff" stroke-width="0.25" textLength="23.00" lengthAdjust="spacingAndGlyphs">BTCUSD</text>
<rect x="985.6" y="225.0" width="37.1" height="17.9" rx="1" fill="#f23645"/>
<text x="990.90" y="231.80" font-size="7.90" fill="#fff" text-anchor="start" font-weight="normal" stroke="#fff" stroke-width="0.12" textLength="29.20" lengthAdjust="spacingAndGlyphs">59,246.61</text>
<text x="990.90" y="239.90" font-size="7.80" fill="#ffdfe2" text-anchor="start" font-weight="normal" stroke="#ffdfe2" stroke-width="0.08" textLength="26.00" lengthAdjust="spacingAndGlyphs">01:39:39</text>
<rect x="985.8" y="424.8" width="30.1" height="9.5" rx="0.8" fill="#ef5350"/>
<text x="991.30" y="432.20" font-size="7.30" fill="#fff" text-anchor="start" font-weight="normal" stroke="#fff" stroke-width="0.35" textLength="16.90" lengthAdjust="spacingAndGlyphs">1.776</text>
<text x="1009.10" y="432.20" font-size="7.30" fill="#fff" text-anchor="start" font-weight="normal" stroke="#fff" stroke-width="0.35" textLength="4.30" lengthAdjust="spacingAndGlyphs">K</text>
<circle cx="936.25" cy="433.4" r="5.5" fill="#fff" stroke="#a854c6" stroke-width="1.3"/>
<path d="M937.6 430.2 L933.9 434.1 L936.0 434.1 L934.9 436.8 L938.6 432.8 L936.5 432.8 Z" fill="#a04cc4" stroke="#a04cc4" stroke-width="0.4" stroke-linejoin="round"/>
<circle cx="940.2" cy="429.7" r="1.55" fill="#f23645" stroke="#fff" stroke-width="0.7"/>
<g>
<circle cx="976.4" cy="433.3" r="5.75" fill="#fff" stroke="#f2606b" stroke-width="1.15"/>
<clipPath id="fc"><circle cx="976.4" cy="433.3" r="4.55"/></clipPath>
<g clip-path="url(#fc)">
<rect x="971" y="428" width="11" height="11" fill="#fff"/>
<rect x="971" y="429.6" width="11" height="1.2" fill="#f0525e"/>
<rect x="971" y="432.5" width="11" height="1.2" fill="#f0525e"/>
<rect x="971" y="435.5" width="11" height="1.5" fill="#f0525e"/>
<rect x="971" y="438.0" width="11" height="1.2" fill="#f0525e"/>
<rect x="971" y="428" width="6.3" height="6.9" fill="#5199ea"/>
</g></g>
<text x="4.70" y="12.00" font-size="7.80" fill="#474b57" text-anchor="start" font-weight="normal" stroke="#474b57" stroke-width="0.16" textLength="20.90" lengthAdjust="spacingAndGlyphs">Bitcoin</text>
<text x="28.50" y="12.00" font-size="7.80" fill="#474b57" text-anchor="start" font-weight="normal" stroke="#474b57" stroke-width="0.16" textLength="1.90" lengthAdjust="spacingAndGlyphs">/</text>
<text x="34.00" y="12.00" font-size="7.80" fill="#474b57" text-anchor="start" font-weight="normal" stroke="#474b57" stroke-width="0.16" textLength="10.70" lengthAdjust="spacingAndGlyphs">U.S.</text>
<text x="48.10" y="12.00" font-size="7.80" fill="#474b57" text-anchor="start" font-weight="normal" stroke="#474b57" stroke-width="0.16" textLength="17.40" lengthAdjust="spacingAndGlyphs">Dollar,</text>
<text x="69.70" y="12.00" font-size="7.80" fill="#474b57" text-anchor="start" font-weight="normal" stroke="#474b57" stroke-width="0.16" textLength="8.20" lengthAdjust="spacingAndGlyphs">4h,</text>
<text x="82.20" y="12.00" font-size="7.80" fill="#474b57" text-anchor="start" font-weight="normal" stroke="#474b57" stroke-width="0.16" textLength="28.10" lengthAdjust="spacingAndGlyphs">COINBASE</text>
<text x="115.50" y="12.00" font-size="7.80" fill="#474b57" text-anchor="start" font-weight="normal" stroke="#474b57" stroke-width="0.16" textLength="4.20" lengthAdjust="spacingAndGlyphs">O</text><text x="119.80" y="12.00" font-size="7.80" fill="#f3414f" text-anchor="start" font-weight="normal" stroke="#f3414f" stroke-width="0.16" textLength="29.40" lengthAdjust="spacingAndGlyphs">59,469.16</text>
<text x="154.00" y="12.00" font-size="7.80" fill="#474b57" text-anchor="start" font-weight="normal" stroke="#474b57" stroke-width="0.16" textLength="4.10" lengthAdjust="spacingAndGlyphs">H</text><text x="158.20" y="12.00" font-size="7.80" fill="#f3414f" text-anchor="start" font-weight="normal" stroke="#f3414f" stroke-width="0.16" textLength="29.70" lengthAdjust="spacingAndGlyphs">59,481.30</text>
<text x="192.80" y="12.00" font-size="7.80" fill="#474b57" text-anchor="start" font-weight="normal" stroke="#474b57" stroke-width="0.16" textLength="3.40" lengthAdjust="spacingAndGlyphs">L</text><text x="196.30" y="12.00" font-size="7.80" fill="#f3414f" text-anchor="start" font-weight="normal" stroke="#f3414f" stroke-width="0.16" textLength="28.90" lengthAdjust="spacingAndGlyphs">58,508.01</text>
<text x="229.60" y="12.00" font-size="7.80" fill="#474b57" text-anchor="start" font-weight="normal" stroke="#474b57" stroke-width="0.16" textLength="4.20" lengthAdjust="spacingAndGlyphs">C</text><text x="233.90" y="12.00" font-size="7.80" fill="#f3414f" text-anchor="start" font-weight="normal" stroke="#f3414f" stroke-width="0.16" textLength="29.30" lengthAdjust="spacingAndGlyphs">59,246.61</text>
<text x="268.20" y="12.00" font-size="7.80" fill="#f3414f" text-anchor="start" font-weight="normal" stroke="#f3414f" stroke-width="0.16" textLength="51.00" lengthAdjust="spacingAndGlyphs">−219.88 (−0.37%)</text>
<text x="5.00" y="21.50" font-size="7.80" fill="#474b57" text-anchor="start" font-weight="normal" stroke="#474b57" stroke-width="0.16" textLength="27.00" lengthAdjust="spacingAndGlyphs">Vol · BTC</text>
<text x="36.90" y="21.50" font-size="7.80" fill="#f3414f" text-anchor="start" font-weight="normal" stroke="#f3414f" stroke-width="0.16" textLength="15.90" lengthAdjust="spacingAndGlyphs">1.776</text>
<text x="54.30" y="21.50" font-size="7.80" fill="#f3414f" text-anchor="start" font-weight="normal" stroke="#f3414f" stroke-width="0.16" textLength="3.80" lengthAdjust="spacingAndGlyphs">K</text>
<text x="5.00" y="452.20" font-size="7.40" fill="#474b57" text-anchor="start" font-weight="normal" stroke="#474b57" stroke-width="0.16" textLength="12.50" lengthAdjust="spacingAndGlyphs">OBV</text>
<text x="21.60" y="452.20" font-size="7.40" fill="#3d70ff" text-anchor="start" font-weight="normal" stroke="#3d70ff" stroke-width="0.10" textLength="23.90" lengthAdjust="spacingAndGlyphs">560.057</text>
<text x="46.50" y="452.20" font-size="7.40" fill="#3d70ff" text-anchor="start" font-weight="normal" stroke="#3d70ff" stroke-width="0.10" textLength="3.80" lengthAdjust="spacingAndGlyphs">K</text>
<text x="28.30" y="470.00" font-size="7.00" fill="#474b57" text-anchor="middle" font-weight="normal" stroke="#474b57" stroke-width="0.16" textLength="7.20" lengthAdjust="spacingAndGlyphs">27</text>
<text x="76.92" y="470.00" font-size="7.00" fill="#474b57" text-anchor="middle" font-weight="normal" stroke="#474b57" stroke-width="0.16" textLength="7.20" lengthAdjust="spacingAndGlyphs">28</text>
<text x="125.53" y="470.00" font-size="7.00" fill="#474b57" text-anchor="middle" font-weight="normal" stroke="#474b57" stroke-width="0.16" textLength="7.20" lengthAdjust="spacingAndGlyphs">29</text>
<text x="174.15" y="470.00" font-size="7.00" fill="#474b57" text-anchor="middle" font-weight="normal" stroke="#474b57" stroke-width="0.16" textLength="7.20" lengthAdjust="spacingAndGlyphs">30</text>
<text x="222.77" y="470.00" font-size="7.00" fill="#474b57" text-anchor="middle" font-weight="normal" stroke="#474b57" stroke-width="0.16" textLength="7.20" lengthAdjust="spacingAndGlyphs">31</text>
<text x="271.39" y="470.00" font-size="7.00" fill="#23262f" text-anchor="middle" font-weight="normal" stroke="#23262f" stroke-width="0.35" textLength="11.50" lengthAdjust="spacingAndGlyphs">Aug</text>
<text x="320.01" y="470.00" font-size="7.00" fill="#474b57" text-anchor="middle" font-weight="normal" stroke="#474b57" stroke-width="0.16" textLength="3.60" lengthAdjust="spacingAndGlyphs">2</text>
<text x="368.62" y="470.00" font-size="7.00" fill="#474b57" text-anchor="middle" font-weight="normal" stroke="#474b57" stroke-width="0.16" textLength="3.60" lengthAdjust="spacingAndGlyphs">3</text>
<text x="417.24" y="470.00" font-size="7.00" fill="#474b57" text-anchor="middle" font-weight="normal" stroke="#474b57" stroke-width="0.16" textLength="3.60" lengthAdjust="spacingAndGlyphs">4</text>
<text x="465.86" y="470.00" font-size="7.00" fill="#474b57" text-anchor="middle" font-weight="normal" stroke="#474b57" stroke-width="0.16" textLength="3.60" lengthAdjust="spacingAndGlyphs">5</text>
<text x="514.48" y="470.00" font-size="7.00" fill="#474b57" text-anchor="middle" font-weight="normal" stroke="#474b57" stroke-width="0.16" textLength="3.60" lengthAdjust="spacingAndGlyphs">6</text>
<text x="563.10" y="470.00" font-size="7.00" fill="#474b57" text-anchor="middle" font-weight="normal" stroke="#474b57" stroke-width="0.16" textLength="3.60" lengthAdjust="spacingAndGlyphs">7</text>
<text x="611.72" y="470.00" font-size="7.00" fill="#474b57" text-anchor="middle" font-weight="normal" stroke="#474b57" stroke-width="0.16" textLength="3.60" lengthAdjust="spacingAndGlyphs">8</text>
<text x="660.33" y="470.00" font-size="7.00" fill="#474b57" text-anchor="middle" font-weight="normal" stroke="#474b57" stroke-width="0.16" textLength="3.60" lengthAdjust="spacingAndGlyphs">9</text>
<text x="708.95" y="470.00" font-size="7.00" fill="#474b57" text-anchor="middle" font-weight="normal" stroke="#474b57" stroke-width="0.16" textLength="7.20" lengthAdjust="spacingAndGlyphs">10</text>
<text x="757.57" y="470.00" font-size="7.00" fill="#474b57" text-anchor="middle" font-weight="normal" stroke="#474b57" stroke-width="0.16" textLength="7.20" lengthAdjust="spacingAndGlyphs">11</text>
<text x="806.19" y="470.00" font-size="7.00" fill="#474b57" text-anchor="middle" font-weight="normal" stroke="#474b57" stroke-width="0.16" textLength="7.20" lengthAdjust="spacingAndGlyphs">12</text>
<text x="854.80" y="470.00" font-size="7.00" fill="#474b57" text-anchor="middle" font-weight="normal" stroke="#474b57" stroke-width="0.16" textLength="7.20" lengthAdjust="spacingAndGlyphs">13</text>
<text x="903.42" y="470.00" font-size="7.00" fill="#474b57" text-anchor="middle" font-weight="normal" stroke="#474b57" stroke-width="0.16" textLength="7.20" lengthAdjust="spacingAndGlyphs">14</text>
<text x="952.04" y="470.00" font-size="7.00" fill="#474b57" text-anchor="middle" font-weight="normal" stroke="#474b57" stroke-width="0.16" textLength="7.20" lengthAdjust="spacingAndGlyphs">15</text>
<rect x="0" y="0" width="1024" height="1.5" fill="#1e2230"/>
<rect x="0" y="1.5" width="0.9" height="474.5" fill="#8a8d96"/>
<rect x="0" y="474.9" width="1024" height="1.1" fill="#8a8d93"/>
</svg></body></html>
